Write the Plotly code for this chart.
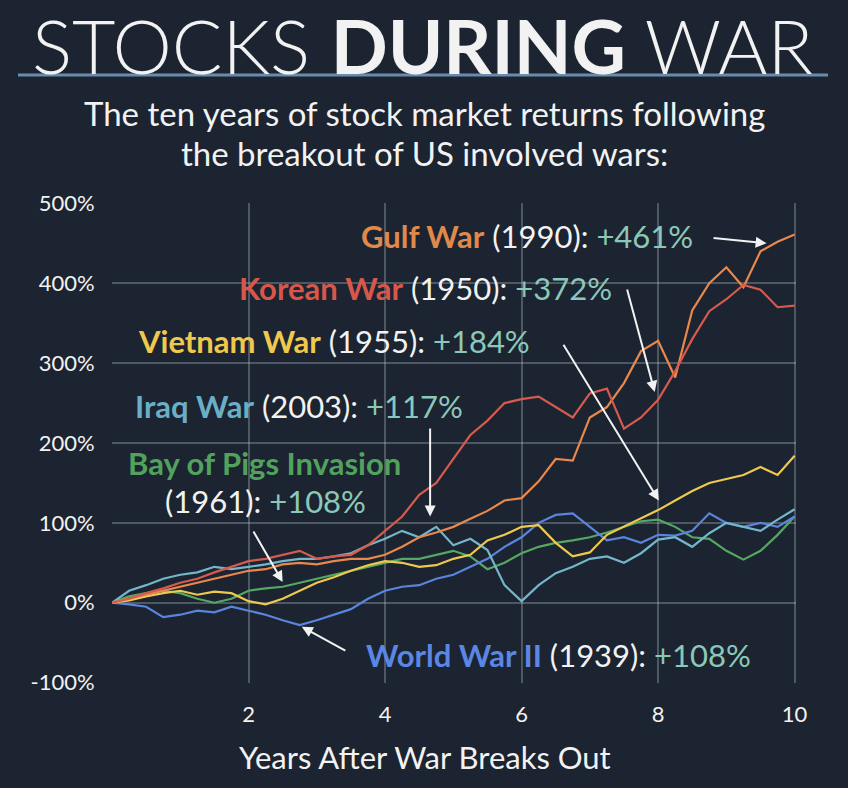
import plotly.graph_objects as go

# ---------------- data ----------------
years = [i * 0.25 for i in range(41)]

korean_war_1950 = [0, 5, 12, 18, 25, 30, 38, 45, 52, 55, 60, 65, 55, 58, 60, 72, 90, 108, 135, 150,
                   180, 210, 228, 250, 255, 258, 245, 232, 262, 268, 218, 232, 254, 290, 330, 365, 380,
                   398, 392, 370, 372]
gulf_war_1990 = [0, 5, 10, 15, 20, 25, 30, 35, 40, 42, 48, 50, 48, 52, 55, 55, 60, 70, 82, 88,
                 95, 105, 115, 128, 131, 152, 180, 178, 232, 245, 275, 315, 328, 282, 366, 400, 420,
                 395, 440, 452, 461]
vietnam_war_1955 = [0, 3, 8, 12, 15, 10, 14, 12, 2, -2, 5, 15, 25, 32, 40, 47, 52, 50, 45, 47,
                    55, 60, 78, 85, 95, 97, 75, 58, 63, 85, 95, 106, 116, 128, 140, 150, 155,
                    160, 170, 160, 184]
iraq_war_2003 = [0, 15, 22, 30, 35, 38, 45, 42, 45, 48, 52, 55, 55, 58, 62, 72, 80, 90, 82, 95,
                 72, 80, 66, 22, 2, 22, 37, 45, 55, 58, 50, 62, 79, 82, 70, 87, 100,
                 95, 90, 104, 117]
bay_of_pigs_1961 = [0, 8, 12, 15, 12, 5, 0, 5, 15, 18, 20, 25, 30, 35, 40, 45, 50, 55, 55, 60,
                    65, 58, 42, 50, 62, 70, 75, 78, 82, 88, 95, 102, 104, 95, 82, 80, 65,
                    54, 65, 85, 108]
world_war_2_1939 = [0, -2, -5, -18, -15, -10, -12, -5, -10, -15, -22, -28, -22, -15, -8, 5, 15, 20, 22, 30,
                    35, 45, 55, 70, 82, 100, 110, 112, 95, 78, 82, 75, 85, 84, 90, 112, 100,
                    95, 100, 95, 108]

x_tick_vals = [2, 4, 6, 8, 10]
x_tick_text = ["2", "4", "6", "8", "10"]
y_tick_vals = [-100, 0, 100, 200, 300, 400, 500]
y_tick_text = ["-100%", "0%", "100%", "200%", "300%", "400%", "500%"]

# ---------------- styling ----------------
BG = "#1b2430"
GRID = "rgba(200,210,220,0.30)"
WHITE = "#f2f2f2"
TEAL = "#8cc8b9"
FONT = "Lato"

series = [
    ("Bay of Pigs Invasion (1961)", bay_of_pigs_1961, "#55a862"),
    ("World War II (1939)", world_war_2_1939, "#5a84dd"),
    ("Iraq War (2003)", iraq_war_2003, "#74b7ca"),
    ("Vietnam War (1955)", vietnam_war_1955, "#efc94f"),
    ("Gulf War (1990)", gulf_war_1990, "#e8884c"),
    ("Korean War (1950)", korean_war_1950, "#d65a4e"),
]

fig = go.Figure()
for name, vals, col in series:
    fig.add_trace(go.Scatter(x=years, y=vals, mode="lines", name=name,
                             line=dict(color=col, width=2.2), hoverinfo="skip"))

W, H = 848, 788
L, R, T, B = 112, 52, 203, 105


def paper(px, py):
    return (px - L) / (W - L - R), (H - B - py) / (H - T - B)


anns = []


def label(px, py, text, size=31):
    xp, yp = paper(px, py)
    anns.append(dict(xref="paper", yref="paper", x=xp, y=yp, text=text, showarrow=False,
                     xanchor="center", yanchor="middle",
                     font=dict(family=FONT, size=size, color=WHITE)))


def arrow(x0, y0, x1, y1):
    anns.append(dict(xref="x", yref="y", axref="x", ayref="y", x=x1, y=y1, ax=x0, ay=y0,
                     text="", showarrow=True, arrowhead=2, arrowsize=1.1, arrowwidth=2,
                     arrowcolor=WHITE))


def span(t, c, bold=False):
    if bold:
        t = "<b>" + t + "</b>"
    return '<span style="color:%s">%s</span>' % (c, t)


label(527, 236, span("Gulf War", "#e0894c", True) + " (1990): " + span("+461%", TEAL))
label(425, 288, span("Korean War", "#d8574b", True) + " (1950): " + span("+372%", TEAL))
label(334, 341, span("Vietnam War", "#f0c94c", True) + " (1955): " + span("+184%", TEAL))
label(299, 406, span("Iraq War", "#6aafc6", True) + " (2003): " + span("+117%", TEAL))
label(264, 463, span("Bay of Pigs Invasion", "#52a25e", True))
label(265, 501, "(1961): " + span("+108%", TEAL))
label(558, 655, span("World War II", "#5b86e4", True) + " (1939): " + span("+108%", TEAL))

arrow(8.79, 457, 9.59, 450)
arrow(7.54, 394, 7.95, 264)
arrow(6.6, 325, 8.01, 128)
arrow(4.66, 220, 4.66, 108)
arrow(2.06, 91, 2.5, 26)
arrow(3.44, -61, 2.78, -30)

# title
xp, yp = paper(422, 45)
anns.append(dict(xref="paper", yref="paper", x=xp, y=yp, showarrow=False,
                 xanchor="center", yanchor="middle",
                 text='STOCKS <span style="font-family:Lato"><b>DURING</b></span> WAR',
                 font=dict(family="Lato Light", size=75, color=WHITE)))
for py, t in [(113, "The ten years of stock market returns following"),
              (153, "the breakout of US involved wars:")]:
    xp, yp = paper(424, py)
    anns.append(dict(xref="paper", yref="paper", x=xp, y=yp, showarrow=False,
                     xanchor="center", yanchor="middle", text=t,
                     font=dict(family=FONT, size=33, color=WHITE)))
xp, yp = paper(425, 757)
anns.append(dict(xref="paper", yref="paper", x=xp, y=yp, showarrow=False,
                 xanchor="center", yanchor="middle", text="Years After War Breaks Out",
                 font=dict(family=FONT, size=31, color=WHITE)))

x0, y0 = paper(18, 75)
x1, _ = paper(828, 75)

fig.update_layout(
    width=W, height=H,
    margin=dict(l=L, r=R, t=T, b=B, pad=0),
    paper_bgcolor=BG, plot_bgcolor=BG,
    showlegend=False,
    annotations=anns,
    shapes=[dict(type="line", xref="paper", yref="paper", x0=x0, x1=x1, y0=y0, y1=y0,
                 line=dict(color="#6a8bab", width=3))],
    font=dict(family=FONT, color=WHITE),
)
fig.update_xaxes(range=[0, 10.02], tickvals=x_tick_vals, ticktext=x_tick_text,
                 showgrid=True, gridcolor=GRID, gridwidth=1.5, zeroline=False,
                 showline=False, ticks="outside", ticklen=12, tickcolor="rgba(0,0,0,0)",
                 tickfont=dict(family=FONT, size=22, color=WHITE))
fig.update_yaxes(range=[-100.5, 500.5], tickvals=y_tick_vals, ticktext=y_tick_text,
                 showgrid=True, gridcolor=GRID, gridwidth=1.5, zeroline=False,
                 showline=False, ticks="outside", ticklen=12, tickcolor="rgba(0,0,0,0)",
                 tickfont=dict(family=FONT, size=22, color=WHITE))

fig.write_html("out.html", config={"displayModeBar": False})
